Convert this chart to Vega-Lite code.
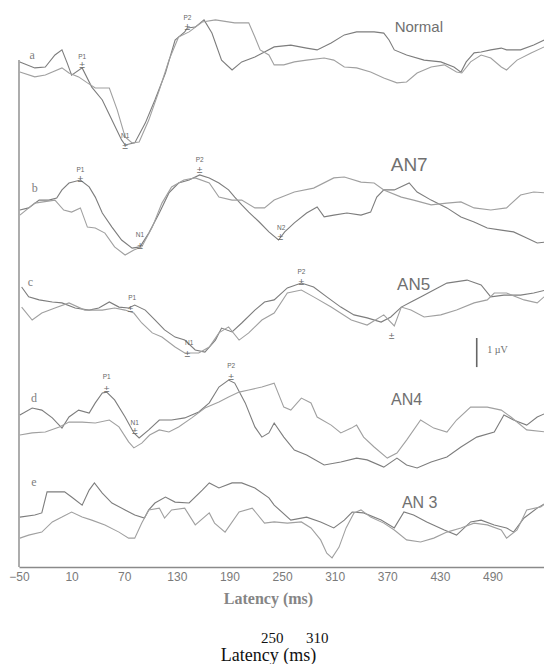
{
"$schema":"https://vega.github.io/schema/vega-lite/v6.json",
"padding":{"left":8,"top":0,"right":0,"bottom":0},
"background":"white",
"spacing":0,
"bounds":"flush",
"resolve":{"scale":{"y":"independent"}},
"title":{"text":"\u200b\u00a0\u00a0\u00a0\u00a0\u00a0\u00a0\u00a0\u00a0\u00a0\u00a0\u00a0\u00a0\u00a0\u00a0250\u00a0\u00a0\u00a0\u00a0\u00a0\u00a0310","subtitle":"Latency (ms)","orient":"bottom","anchor":"middle","frame":"group","dx":-14,"font":"Liberation Serif","fontSize":15,"fontWeight":"normal","color":"#111","subtitleFont":"Liberation Serif","subtitleFontSize":18,"subtitleColor":"#111","subtitlePadding":1,"offset":25},
"config":{"view":{"stroke":null}},
"datasets":{
"traces":[
{"panel":"a","series":"1","latency":-49,"uv":0.27},{"panel":"a","series":"1","latency":-32,"uv":0.07},{"panel":"a","series":"1","latency":-20,"uv":0.1},{"panel":"a","series":"1","latency":-9,"uv":0.5},{"panel":"a","series":"1","latency":-1,"uv":0.67},{"panel":"a","series":"1","latency":5,"uv":0.23},{"panel":"a","series":"1","latency":10,"uv":-0.17},{"panel":"a","series":"1","latency":22,"uv":0.07},{"panel":"a","series":"1","latency":33,"uv":-0.57},{"panel":"a","series":"1","latency":45,"uv":-1.0},{"panel":"a","series":"1","latency":56,"uv":-1.67},{"panel":"a","series":"1","latency":67,"uv":-2.33},{"panel":"a","series":"1","latency":71,"uv":-2.5},{"panel":"a","series":"1","latency":82,"uv":-2.43},{"panel":"a","series":"1","latency":94,"uv":-1.77},{"panel":"a","series":"1","latency":105,"uv":-1.0},{"panel":"a","series":"1","latency":117,"uv":-0.1},{"panel":"a","series":"1","latency":128,"uv":1.0},{"panel":"a","series":"1","latency":139,"uv":1.27},{"panel":"a","series":"1","latency":142,"uv":1.4},{"panel":"a","series":"1","latency":151,"uv":1.43},{"panel":"a","series":"1","latency":161,"uv":1.67},{"panel":"a","series":"1","latency":170,"uv":1.23},{"panel":"a","series":"1","latency":181,"uv":0.33},{"panel":"a","series":"1","latency":193,"uv":0.0},{"panel":"a","series":"1","latency":204,"uv":0.27},{"panel":"a","series":"1","latency":219,"uv":0.43},{"panel":"a","series":"1","latency":230,"uv":0.6},{"panel":"a","series":"1","latency":241,"uv":0.77},{"panel":"a","series":"1","latency":260,"uv":0.83},{"panel":"a","series":"1","latency":278,"uv":0.73},{"panel":"a","series":"1","latency":290,"uv":0.67},{"panel":"a","series":"1","latency":306,"uv":0.9},{"panel":"a","series":"1","latency":321,"uv":1.17},{"panel":"a","series":"1","latency":335,"uv":1.27},{"panel":"a","series":"1","latency":355,"uv":1.27},{"panel":"a","series":"1","latency":366,"uv":1.23},{"panel":"a","series":"1","latency":372,"uv":1.0},{"panel":"a","series":"1","latency":378,"uv":0.67},{"panel":"a","series":"1","latency":392,"uv":0.5},{"panel":"a","series":"1","latency":412,"uv":0.33},{"panel":"a","series":"1","latency":431,"uv":0.27},{"panel":"a","series":"1","latency":446,"uv":0.1},{"panel":"a","series":"1","latency":454,"uv":-0.07},{"panel":"a","series":"1","latency":460,"uv":0.27},{"panel":"a","series":"1","latency":469,"uv":0.57},{"panel":"a","series":"1","latency":477,"uv":0.6},{"panel":"a","series":"1","latency":488,"uv":0.67},{"panel":"a","series":"1","latency":500,"uv":0.73},{"panel":"a","series":"1","latency":506,"uv":0.67},{"panel":"a","series":"1","latency":522,"uv":0.67},{"panel":"a","series":"1","latency":537,"uv":0.83},{"panel":"a","series":"1","latency":549,"uv":1.0},
{"panel":"a","series":"2","latency":-49,"uv":-0.07},{"panel":"a","series":"2","latency":-32,"uv":-0.23},{"panel":"a","series":"2","latency":-20,"uv":-0.17},{"panel":"a","series":"2","latency":-1,"uv":0.07},{"panel":"a","series":"2","latency":7,"uv":-0.1},{"panel":"a","series":"2","latency":18,"uv":-0.23},{"panel":"a","series":"2","latency":28,"uv":-0.43},{"panel":"a","series":"2","latency":37,"uv":-0.6},{"panel":"a","series":"2","latency":53,"uv":-0.6},{"panel":"a","series":"2","latency":62,"uv":-1.33},{"panel":"a","series":"2","latency":71,"uv":-2.23},{"panel":"a","series":"2","latency":79,"uv":-2.43},{"panel":"a","series":"2","latency":87,"uv":-2.4},{"panel":"a","series":"2","latency":98,"uv":-1.67},{"panel":"a","series":"2","latency":110,"uv":-0.67},{"panel":"a","series":"2","latency":121,"uv":0.33},{"panel":"a","series":"2","latency":132,"uv":1.1},{"panel":"a","series":"2","latency":144,"uv":1.27},{"panel":"a","series":"2","latency":159,"uv":1.6},{"panel":"a","series":"2","latency":174,"uv":1.67},{"panel":"a","series":"2","latency":196,"uv":1.57},{"panel":"a","series":"2","latency":212,"uv":1.57},{"panel":"a","series":"2","latency":219,"uv":1.1},{"panel":"a","series":"2","latency":225,"uv":0.67},{"panel":"a","series":"2","latency":235,"uv":0.5},{"panel":"a","series":"2","latency":241,"uv":0.17},{"panel":"a","series":"2","latency":252,"uv":0.17},{"panel":"a","series":"2","latency":264,"uv":0.27},{"panel":"a","series":"2","latency":278,"uv":0.33},{"panel":"a","series":"2","latency":298,"uv":0.4},{"panel":"a","series":"2","latency":309,"uv":0.33},{"panel":"a","series":"2","latency":321,"uv":0.1},{"panel":"a","series":"2","latency":335,"uv":0.07},{"panel":"a","series":"2","latency":351,"uv":-0.07},{"panel":"a","series":"2","latency":366,"uv":-0.27},{"panel":"a","series":"2","latency":381,"uv":-0.43},{"panel":"a","series":"2","latency":392,"uv":-0.4},{"panel":"a","series":"2","latency":404,"uv":-0.1},{"panel":"a","series":"2","latency":420,"uv":0.1},{"panel":"a","series":"2","latency":435,"uv":0.17},{"panel":"a","series":"2","latency":449,"uv":-0.07},{"panel":"a","series":"2","latency":455,"uv":-0.1},{"panel":"a","series":"2","latency":465,"uv":0.27},{"panel":"a","series":"2","latency":477,"uv":0.5},{"panel":"a","series":"2","latency":488,"uv":0.4},{"panel":"a","series":"2","latency":500,"uv":0.1},{"panel":"a","series":"2","latency":506,"uv":0.0},{"panel":"a","series":"2","latency":518,"uv":0.33},{"panel":"a","series":"2","latency":534,"uv":0.57},{"panel":"a","series":"2","latency":549,"uv":0.77},
{"panel":"b","series":"1","latency":-49,"uv":0},{"panel":"b","series":"1","latency":-39,"uv":0.07},{"panel":"b","series":"1","latency":-27,"uv":0.33},{"panel":"b","series":"1","latency":-16,"uv":0.33},{"panel":"b","series":"1","latency":-7,"uv":0.4},{"panel":"b","series":"1","latency":-1,"uv":0.67},{"panel":"b","series":"1","latency":7,"uv":0.9},{"panel":"b","series":"1","latency":20,"uv":1.0},{"panel":"b","series":"1","latency":30,"uv":0.77},{"panel":"b","series":"1","latency":37,"uv":0.43},{"panel":"b","series":"1","latency":45,"uv":-0.1},{"panel":"b","series":"1","latency":56,"uv":-0.57},{"panel":"b","series":"1","latency":67,"uv":-1.0},{"panel":"b","series":"1","latency":79,"uv":-1.27},{"panel":"b","series":"1","latency":88,"uv":-1.23},{"panel":"b","series":"1","latency":98,"uv":-0.77},{"panel":"b","series":"1","latency":110,"uv":-0.1},{"panel":"b","series":"1","latency":121,"uv":0.57},{"panel":"b","series":"1","latency":132,"uv":0.9},{"panel":"b","series":"1","latency":144,"uv":1.0},{"panel":"b","series":"1","latency":156,"uv":1.17},{"panel":"b","series":"1","latency":167,"uv":1.07},{"panel":"b","series":"1","latency":178,"uv":0.9},{"panel":"b","series":"1","latency":189,"uv":0.67},{"panel":"b","series":"1","latency":196,"uv":0.43},{"panel":"b","series":"1","latency":204,"uv":0.17},{"panel":"b","series":"1","latency":212,"uv":-0.07},{"panel":"b","series":"1","latency":224,"uv":-0.4},{"panel":"b","series":"1","latency":235,"uv":-0.73},{"panel":"b","series":"1","latency":246,"uv":-1.0},{"panel":"b","series":"1","latency":253,"uv":-0.73},{"panel":"b","series":"1","latency":264,"uv":-0.43},{"panel":"b","series":"1","latency":278,"uv":-0.1},{"panel":"b","series":"1","latency":290,"uv":0.1},{"panel":"b","series":"1","latency":298,"uv":-0.23},{"panel":"b","series":"1","latency":309,"uv":-0.17},{"panel":"b","series":"1","latency":324,"uv":-0.1},{"panel":"b","series":"1","latency":340,"uv":-0.17},{"panel":"b","series":"1","latency":351,"uv":-0.07},{"panel":"b","series":"1","latency":358,"uv":0.43},{"panel":"b","series":"1","latency":366,"uv":0.67},{"panel":"b","series":"1","latency":378,"uv":0.67},{"panel":"b","series":"1","latency":395,"uv":0.9},{"panel":"b","series":"1","latency":404,"uv":0.6},{"panel":"b","series":"1","latency":420,"uv":0.33},{"panel":"b","series":"1","latency":438,"uv":0.07},{"panel":"b","series":"1","latency":454,"uv":-0.23},{"panel":"b","series":"1","latency":469,"uv":-0.4},{"panel":"b","series":"1","latency":484,"uv":-0.6},{"panel":"b","series":"1","latency":500,"uv":-0.67},{"panel":"b","series":"1","latency":514,"uv":-0.73},{"panel":"b","series":"1","latency":529,"uv":-0.93},{"panel":"b","series":"1","latency":541,"uv":-1.1},{"panel":"b","series":"1","latency":551,"uv":-1.07},
{"panel":"b","series":"2","latency":-49,"uv":-0.17},{"panel":"b","series":"2","latency":-32,"uv":0.23},{"panel":"b","series":"2","latency":-9,"uv":0.33},{"panel":"b","series":"2","latency":1,"uv":0},{"panel":"b","series":"2","latency":10,"uv":-0.07},{"panel":"b","series":"2","latency":20,"uv":0.07},{"panel":"b","series":"2","latency":28,"uv":-0.57},{"panel":"b","series":"2","latency":37,"uv":-0.6},{"panel":"b","series":"2","latency":48,"uv":-0.77},{"panel":"b","series":"2","latency":59,"uv":-1.23},{"panel":"b","series":"2","latency":71,"uv":-1.5},{"panel":"b","series":"2","latency":81,"uv":-1.33},{"panel":"b","series":"2","latency":90,"uv":-1.23},{"panel":"b","series":"2","latency":102,"uv":-0.57},{"panel":"b","series":"2","latency":113,"uv":0.23},{"panel":"b","series":"2","latency":124,"uv":0.77},{"panel":"b","series":"2","latency":138,"uv":1.0},{"panel":"b","series":"2","latency":151,"uv":1.07},{"panel":"b","series":"2","latency":167,"uv":0.9},{"panel":"b","series":"2","latency":178,"uv":0.43},{"panel":"b","series":"2","latency":193,"uv":0.33},{"panel":"b","series":"2","latency":204,"uv":0.33},{"panel":"b","series":"2","latency":219,"uv":0.07},{"panel":"b","series":"2","latency":230,"uv":0.07},{"panel":"b","series":"2","latency":241,"uv":0.33},{"panel":"b","series":"2","latency":264,"uv":0.6},{"panel":"b","series":"2","latency":286,"uv":0.73},{"panel":"b","series":"2","latency":309,"uv":1.07},{"panel":"b","series":"2","latency":321,"uv":1.1},{"panel":"b","series":"2","latency":340,"uv":0.93},{"panel":"b","series":"2","latency":355,"uv":0.9},{"panel":"b","series":"2","latency":366,"uv":0.67},{"panel":"b","series":"2","latency":386,"uv":0.43},{"panel":"b","series":"2","latency":400,"uv":0.33},{"panel":"b","series":"2","latency":420,"uv":0.17},{"panel":"b","series":"2","latency":438,"uv":0.23},{"panel":"b","series":"2","latency":454,"uv":0.27},{"panel":"b","series":"2","latency":469,"uv":0.07},{"panel":"b","series":"2","latency":488,"uv":0},{"panel":"b","series":"2","latency":506,"uv":0.07},{"panel":"b","series":"2","latency":522,"uv":0.5},{"panel":"b","series":"2","latency":537,"uv":0.6},{"panel":"b","series":"2","latency":551,"uv":0.57},
{"panel":"c","series":"1","latency":-47,"uv":0.6},{"panel":"c","series":"1","latency":-39,"uv":0.27},{"panel":"c","series":"1","latency":-27,"uv":0.17},{"panel":"c","series":"1","latency":-12,"uv":0.1},{"panel":"c","series":"1","latency":-1,"uv":0.07},{"panel":"c","series":"1","latency":14,"uv":-0.1},{"panel":"c","series":"1","latency":30,"uv":-0.17},{"panel":"c","series":"1","latency":41,"uv":-0.1},{"panel":"c","series":"1","latency":53,"uv":0.1},{"panel":"c","series":"1","latency":64,"uv":-0.07},{"panel":"c","series":"1","latency":75,"uv":-0.1},{"panel":"c","series":"1","latency":82,"uv":0},{"panel":"c","series":"1","latency":94,"uv":-0.17},{"panel":"c","series":"1","latency":105,"uv":-0.5},{"panel":"c","series":"1","latency":116,"uv":-0.83},{"panel":"c","series":"1","latency":128,"uv":-1.07},{"panel":"c","series":"1","latency":139,"uv":-1.17},{"panel":"c","series":"1","latency":151,"uv":-1.5},{"panel":"c","series":"1","latency":162,"uv":-1.57},{"panel":"c","series":"1","latency":174,"uv":-1.17},{"panel":"c","series":"1","latency":181,"uv":-0.77},{"panel":"c","series":"1","latency":193,"uv":-0.9},{"panel":"c","series":"1","latency":204,"uv":-0.6},{"panel":"c","series":"1","latency":219,"uv":-0.17},{"panel":"c","series":"1","latency":230,"uv":0.1},{"panel":"c","series":"1","latency":241,"uv":0.17},{"panel":"c","series":"1","latency":256,"uv":0.57},{"panel":"c","series":"1","latency":272,"uv":0.73},{"panel":"c","series":"1","latency":286,"uv":0.6},{"panel":"c","series":"1","latency":301,"uv":0.27},{"panel":"c","series":"1","latency":317,"uv":-0.07},{"panel":"c","series":"1","latency":332,"uv":-0.33},{"panel":"c","series":"1","latency":347,"uv":-0.43},{"panel":"c","series":"1","latency":363,"uv":-0.57},{"panel":"c","series":"1","latency":374,"uv":-0.4},{"panel":"c","series":"1","latency":386,"uv":-0.07},{"panel":"c","series":"1","latency":397,"uv":0.1},{"panel":"c","series":"1","latency":408,"uv":0.27},{"panel":"c","series":"1","latency":423,"uv":0.5},{"panel":"c","series":"1","latency":438,"uv":0.73},{"panel":"c","series":"1","latency":461,"uv":0.83},{"panel":"c","series":"1","latency":477,"uv":0.67},{"panel":"c","series":"1","latency":488,"uv":0.27},{"panel":"c","series":"1","latency":503,"uv":0.33},{"panel":"c","series":"1","latency":522,"uv":0.33},{"panel":"c","series":"1","latency":537,"uv":0.4},{"panel":"c","series":"1","latency":551,"uv":0.5},
{"panel":"c","series":"2","latency":-47,"uv":-0.07},{"panel":"c","series":"2","latency":-35,"uv":-0.5},{"panel":"c","series":"2","latency":-24,"uv":-0.27},{"panel":"c","series":"2","latency":-9,"uv":-0.1},{"panel":"c","series":"2","latency":7,"uv":0.07},{"panel":"c","series":"2","latency":25,"uv":-0.17},{"panel":"c","series":"2","latency":45,"uv":-0.17},{"panel":"c","series":"2","latency":59,"uv":-0.1},{"panel":"c","series":"2","latency":71,"uv":-0.17},{"panel":"c","series":"2","latency":81,"uv":-0.27},{"panel":"c","series":"2","latency":90,"uv":-0.6},{"panel":"c","series":"2","latency":102,"uv":-0.93},{"panel":"c","series":"2","latency":113,"uv":-1.07},{"panel":"c","series":"2","latency":128,"uv":-1.4},{"panel":"c","series":"2","latency":139,"uv":-1.6},{"panel":"c","series":"2","latency":155,"uv":-1.6},{"panel":"c","series":"2","latency":167,"uv":-1.4},{"panel":"c","series":"2","latency":178,"uv":-0.93},{"panel":"c","series":"2","latency":189,"uv":-0.73},{"panel":"c","series":"2","latency":201,"uv":-1.17},{"panel":"c","series":"2","latency":212,"uv":-0.93},{"panel":"c","series":"2","latency":227,"uv":-0.5},{"panel":"c","series":"2","latency":241,"uv":-0.27},{"panel":"c","series":"2","latency":256,"uv":0.4},{"panel":"c","series":"2","latency":272,"uv":0.5},{"panel":"c","series":"2","latency":286,"uv":0.27},{"panel":"c","series":"2","latency":306,"uv":-0.07},{"panel":"c","series":"2","latency":329,"uv":-0.5},{"panel":"c","series":"2","latency":347,"uv":-0.67},{"panel":"c","series":"2","latency":366,"uv":-0.33},{"panel":"c","series":"2","latency":378,"uv":-0.7},{"panel":"c","series":"2","latency":386,"uv":-0.07},{"panel":"c","series":"2","latency":397,"uv":-0.17},{"panel":"c","series":"2","latency":412,"uv":-0.4},{"panel":"c","series":"2","latency":431,"uv":-0.33},{"panel":"c","series":"2","latency":449,"uv":-0.17},{"panel":"c","series":"2","latency":469,"uv":0.07},{"panel":"c","series":"2","latency":484,"uv":0.17},{"panel":"c","series":"2","latency":492,"uv":0.4},{"panel":"c","series":"2","latency":506,"uv":0.4},{"panel":"c","series":"2","latency":526,"uv":0.17},{"panel":"c","series":"2","latency":541,"uv":0.07},{"panel":"c","series":"2","latency":551,"uv":0.33},
{"panel":"d","series":"1","latency":-49,"uv":0.17},{"panel":"d","series":"1","latency":-35,"uv":0.4},{"panel":"d","series":"1","latency":-24,"uv":0.33},{"panel":"d","series":"1","latency":-12,"uv":0.07},{"panel":"d","series":"1","latency":-1,"uv":-0.27},{"panel":"d","series":"1","latency":7,"uv":0.1},{"panel":"d","series":"1","latency":18,"uv":0.33},{"panel":"d","series":"1","latency":30,"uv":0.23},{"panel":"d","series":"1","latency":37,"uv":0.57},{"panel":"d","series":"1","latency":45,"uv":0.9},{"panel":"d","series":"1","latency":50,"uv":0.93},{"panel":"d","series":"1","latency":59,"uv":0.67},{"panel":"d","series":"1","latency":71,"uv":0.1},{"panel":"d","series":"1","latency":81,"uv":-0.43},{"panel":"d","series":"1","latency":87,"uv":-0.6},{"panel":"d","series":"1","latency":98,"uv":-0.33},{"panel":"d","series":"1","latency":110,"uv":0},{"panel":"d","series":"1","latency":124,"uv":0},{"panel":"d","series":"1","latency":139,"uv":0.07},{"panel":"d","series":"1","latency":155,"uv":0.27},{"panel":"d","series":"1","latency":167,"uv":0.57},{"panel":"d","series":"1","latency":178,"uv":1.1},{"panel":"d","series":"1","latency":189,"uv":1.33},{"panel":"d","series":"1","latency":196,"uv":1.23},{"panel":"d","series":"1","latency":208,"uv":0.57},{"panel":"d","series":"1","latency":219,"uv":-0.23},{"panel":"d","series":"1","latency":227,"uv":-0.57},{"panel":"d","series":"1","latency":235,"uv":-0.43},{"panel":"d","series":"1","latency":241,"uv":-0.1},{"panel":"d","series":"1","latency":252,"uv":-0.57},{"panel":"d","series":"1","latency":264,"uv":-1.0},{"panel":"d","series":"1","latency":278,"uv":-1.17},{"panel":"d","series":"1","latency":298,"uv":-1.5},{"panel":"d","series":"1","latency":317,"uv":-1.4},{"panel":"d","series":"1","latency":335,"uv":-1.27},{"panel":"d","series":"1","latency":347,"uv":-1.33},{"panel":"d","series":"1","latency":366,"uv":-1.57},{"panel":"d","series":"1","latency":381,"uv":-1.27},{"panel":"d","series":"1","latency":392,"uv":-1.5},{"panel":"d","series":"1","latency":404,"uv":-1.6},{"panel":"d","series":"1","latency":420,"uv":-1.4},{"panel":"d","series":"1","latency":438,"uv":-1.23},{"panel":"d","series":"1","latency":454,"uv":-0.9},{"panel":"d","series":"1","latency":472,"uv":-0.57},{"panel":"d","series":"1","latency":492,"uv":-0.4},{"panel":"d","series":"1","latency":503,"uv":0.17},{"panel":"d","series":"1","latency":514,"uv":0},{"panel":"d","series":"1","latency":529,"uv":-0.17},{"panel":"d","series":"1","latency":541,"uv":0.1},{"panel":"d","series":"1","latency":551,"uv":0.23},
{"panel":"d","series":"2","latency":-49,"uv":-0.5},{"panel":"d","series":"2","latency":-35,"uv":-0.43},{"panel":"d","series":"2","latency":-20,"uv":-0.4},{"panel":"d","series":"2","latency":-4,"uv":-0.23},{"panel":"d","series":"2","latency":7,"uv":-0.07},{"panel":"d","series":"2","latency":22,"uv":-0.07},{"panel":"d","series":"2","latency":37,"uv":-0.1},{"panel":"d","series":"2","latency":53,"uv":0},{"panel":"d","series":"2","latency":64,"uv":-0.23},{"panel":"d","series":"2","latency":75,"uv":-0.73},{"panel":"d","series":"2","latency":81,"uv":-0.93},{"panel":"d","series":"2","latency":90,"uv":-0.77},{"panel":"d","series":"2","latency":99,"uv":-0.5},{"panel":"d","series":"2","latency":110,"uv":-0.33},{"panel":"d","series":"2","latency":121,"uv":-0.4},{"panel":"d","series":"2","latency":132,"uv":-0.23},{"panel":"d","series":"2","latency":147,"uv":0.07},{"panel":"d","series":"2","latency":162,"uv":0.4},{"panel":"d","series":"2","latency":178,"uv":0.6},{"panel":"d","series":"2","latency":189,"uv":0.77},{"panel":"d","series":"2","latency":201,"uv":0.93},{"panel":"d","series":"2","latency":212,"uv":1.0},{"panel":"d","series":"2","latency":227,"uv":1.1},{"panel":"d","series":"2","latency":241,"uv":1.23},{"panel":"d","series":"2","latency":252,"uv":0.43},{"panel":"d","series":"2","latency":260,"uv":0.33},{"panel":"d","series":"2","latency":272,"uv":0.73},{"panel":"d","series":"2","latency":283,"uv":0.57},{"panel":"d","series":"2","latency":290,"uv":0.1},{"panel":"d","series":"2","latency":306,"uv":-0.17},{"panel":"d","series":"2","latency":317,"uv":-0.43},{"panel":"d","series":"2","latency":329,"uv":-0.27},{"panel":"d","series":"2","latency":335,"uv":-0.17},{"panel":"d","series":"2","latency":343,"uv":-0.57},{"panel":"d","series":"2","latency":355,"uv":-0.9},{"panel":"d","series":"2","latency":370,"uv":-1.27},{"panel":"d","series":"2","latency":381,"uv":-1.1},{"panel":"d","series":"2","latency":392,"uv":-0.67},{"panel":"d","series":"2","latency":408,"uv":0},{"panel":"d","series":"2","latency":423,"uv":-0.27},{"panel":"d","series":"2","latency":438,"uv":-0.4},{"panel":"d","series":"2","latency":449,"uv":0},{"panel":"d","series":"2","latency":465,"uv":0.43},{"panel":"d","series":"2","latency":484,"uv":0.43},{"panel":"d","series":"2","latency":500,"uv":0.33},{"panel":"d","series":"2","latency":511,"uv":0.1},{"panel":"d","series":"2","latency":529,"uv":-0.33},{"panel":"d","series":"2","latency":551,"uv":-0.4},
{"panel":"e","series":"1","latency":-49,"uv":-0.07},{"panel":"e","series":"1","latency":-32,"uv":0},{"panel":"e","series":"1","latency":-24,"uv":0.07},{"panel":"e","series":"1","latency":-18,"uv":0.77},{"panel":"e","series":"1","latency":-9,"uv":0.77},{"panel":"e","series":"1","latency":2,"uv":0.77},{"panel":"e","series":"1","latency":10,"uv":0.6},{"panel":"e","series":"1","latency":22,"uv":0.33},{"panel":"e","series":"1","latency":30,"uv":0.83},{"panel":"e","series":"1","latency":36,"uv":1.07},{"panel":"e","series":"1","latency":45,"uv":0.73},{"panel":"e","series":"1","latency":56,"uv":0.4},{"panel":"e","series":"1","latency":71,"uv":0.17},{"panel":"e","series":"1","latency":82,"uv":0},{"panel":"e","series":"1","latency":93,"uv":-0.1},{"panel":"e","series":"1","latency":98,"uv":0.17},{"panel":"e","series":"1","latency":105,"uv":0.4},{"panel":"e","series":"1","latency":117,"uv":0.6},{"panel":"e","series":"1","latency":128,"uv":0.43},{"panel":"e","series":"1","latency":144,"uv":0.4},{"panel":"e","series":"1","latency":159,"uv":0.83},{"panel":"e","series":"1","latency":167,"uv":1.07},{"panel":"e","series":"1","latency":178,"uv":0.9},{"panel":"e","series":"1","latency":193,"uv":1.07},{"panel":"e","series":"1","latency":204,"uv":1.07},{"panel":"e","series":"1","latency":219,"uv":0.9},{"panel":"e","series":"1","latency":235,"uv":0.57},{"panel":"e","series":"1","latency":241,"uv":0.33},{"panel":"e","series":"1","latency":260,"uv":-0.17},{"panel":"e","series":"1","latency":278,"uv":-0.07},{"panel":"e","series":"1","latency":294,"uv":-0.23},{"panel":"e","series":"1","latency":309,"uv":-0.43},{"panel":"e","series":"1","latency":321,"uv":-0.17},{"panel":"e","series":"1","latency":330,"uv":0.1},{"panel":"e","series":"1","latency":343,"uv":0.07},{"panel":"e","series":"1","latency":363,"uv":-0.17},{"panel":"e","series":"1","latency":378,"uv":-0.43},{"panel":"e","series":"1","latency":389,"uv":0.1},{"panel":"e","series":"1","latency":400,"uv":0},{"panel":"e","series":"1","latency":415,"uv":-0.23},{"panel":"e","series":"1","latency":435,"uv":-0.5},{"panel":"e","series":"1","latency":449,"uv":-0.67},{"panel":"e","series":"1","latency":465,"uv":-0.23},{"panel":"e","series":"1","latency":477,"uv":-0.17},{"panel":"e","series":"1","latency":492,"uv":-0.33},{"panel":"e","series":"1","latency":506,"uv":-0.43},{"panel":"e","series":"1","latency":514,"uv":-0.57},{"panel":"e","series":"1","latency":526,"uv":-0.1},{"panel":"e","series":"1","latency":541,"uv":0.23},{"panel":"e","series":"1","latency":551,"uv":0.4},
{"panel":"e","series":"2","latency":-49,"uv":-0.77},{"panel":"e","series":"2","latency":-39,"uv":-0.67},{"panel":"e","series":"2","latency":-24,"uv":-0.57},{"panel":"e","series":"2","latency":-12,"uv":-0.23},{"panel":"e","series":"2","latency":-1,"uv":-0.07},{"panel":"e","series":"2","latency":10,"uv":0.1},{"panel":"e","series":"2","latency":22,"uv":-0.07},{"panel":"e","series":"2","latency":33,"uv":-0.17},{"panel":"e","series":"2","latency":48,"uv":-0.33},{"panel":"e","series":"2","latency":64,"uv":-0.57},{"panel":"e","series":"2","latency":75,"uv":-0.77},{"panel":"e","series":"2","latency":82,"uv":-0.77},{"panel":"e","series":"2","latency":90,"uv":-0.27},{"panel":"e","series":"2","latency":98,"uv":0.17},{"panel":"e","series":"2","latency":110,"uv":0.23},{"panel":"e","series":"2","latency":116,"uv":-0.1},{"panel":"e","series":"2","latency":124,"uv":0.17},{"panel":"e","series":"2","latency":139,"uv":0.23},{"panel":"e","series":"2","latency":151,"uv":-0.33},{"panel":"e","series":"2","latency":167,"uv":0.07},{"panel":"e","series":"2","latency":173,"uv":-0.27},{"panel":"e","series":"2","latency":185,"uv":-0.57},{"panel":"e","series":"2","latency":201,"uv":0.1},{"panel":"e","series":"2","latency":216,"uv":0.23},{"panel":"e","series":"2","latency":230,"uv":-0.27},{"panel":"e","series":"2","latency":241,"uv":-0.23},{"panel":"e","series":"2","latency":256,"uv":-0.27},{"panel":"e","series":"2","latency":272,"uv":-0.23},{"panel":"e","series":"2","latency":283,"uv":-0.43},{"panel":"e","series":"2","latency":294,"uv":-0.83},{"panel":"e","series":"2","latency":301,"uv":-1.27},{"panel":"e","series":"2","latency":307,"uv":-1.43},{"panel":"e","series":"2","latency":315,"uv":-1.07},{"panel":"e","series":"2","latency":323,"uv":-0.43},{"panel":"e","series":"2","latency":332,"uv":0.07},{"panel":"e","series":"2","latency":340,"uv":0.17},{"panel":"e","series":"2","latency":351,"uv":-0.07},{"panel":"e","series":"2","latency":366,"uv":-0.27},{"panel":"e","series":"2","latency":378,"uv":-0.5},{"panel":"e","series":"2","latency":392,"uv":-0.83},{"panel":"e","series":"2","latency":408,"uv":-0.9},{"panel":"e","series":"2","latency":423,"uv":-0.77},{"panel":"e","series":"2","latency":438,"uv":-0.57},{"panel":"e","series":"2","latency":454,"uv":-0.43},{"panel":"e","series":"2","latency":469,"uv":-0.27},{"panel":"e","series":"2","latency":484,"uv":-0.33},{"panel":"e","series":"2","latency":500,"uv":-0.5},{"panel":"e","series":"2","latency":506,"uv":-0.77},{"panel":"e","series":"2","latency":518,"uv":-0.5},{"panel":"e","series":"2","latency":529,"uv":0.17},{"panel":"e","series":"2","latency":545,"uv":0.27},{"panel":"e","series":"2","latency":551,"uv":0.4}
],
"notes":[
{"panel":"a","kind":"name","label":"Normal","latency":406,"uv":1.43},
{"panel":"a","kind":"letter","label":"a","latency":-35,"uv":0.5},
{"panel":"a","kind":"peak","label":"P1","latency":22,"uv":0.43},
{"panel":"a","kind":"peak","label":"N1","latency":71,"uv":-2.2},
{"panel":"a","kind":"peak","label":"P2","latency":142,"uv":1.73},
{"panel":"a","kind":"marker","label":"±","latency":22,"uv":0.13},
{"panel":"a","kind":"marker","label":"±","latency":71,"uv":-2.57},
{"panel":"a","kind":"marker","label":"±","latency":142,"uv":1.4},
{"panel":"b","kind":"name","label":"AN7","latency":395,"uv":1.5},
{"panel":"b","kind":"letter","label":"b","latency":-32,"uv":0.73},
{"panel":"b","kind":"peak","label":"P1","latency":20,"uv":1.33},
{"panel":"b","kind":"peak","label":"N1","latency":88,"uv":-0.83},
{"panel":"b","kind":"peak","label":"P2","latency":156,"uv":1.67},
{"panel":"b","kind":"peak","label":"N2","latency":249,"uv":-0.6},
{"panel":"b","kind":"marker","label":"±","latency":20,"uv":1.0},
{"panel":"b","kind":"marker","label":"±","latency":88,"uv":-1.23},
{"panel":"b","kind":"marker","label":"±","latency":156,"uv":1.3},
{"panel":"b","kind":"marker","label":"±","latency":248,"uv":-0.93},
{"panel":"c","kind":"name","label":"AN5","latency":400,"uv":0.67},
{"panel":"c","kind":"letter","label":"c","latency":-37,"uv":0.77},
{"panel":"c","kind":"peak","label":"P1","latency":79,"uv":0.23},
{"panel":"c","kind":"peak","label":"N1","latency":144,"uv":-1.27},
{"panel":"c","kind":"peak","label":"P2","latency":272,"uv":1.1},
{"panel":"c","kind":"marker","label":"±","latency":77,"uv":-0.17},
{"panel":"c","kind":"marker","label":"±","latency":142,"uv":-1.67},
{"panel":"c","kind":"marker","label":"±","latency":272,"uv":0.73},
{"panel":"c","kind":"marker","label":"±","latency":375,"uv":-1.07},
{"panel":"c","kind":"unit","label":"1 µV","latency":484,"uv":-1.5},
{"panel":"d","kind":"name","label":"AN4","latency":392,"uv":0.67},
{"panel":"d","kind":"letter","label":"d","latency":-33,"uv":0.73},
{"panel":"d","kind":"peak","label":"P1","latency":50,"uv":1.43},
{"panel":"d","kind":"peak","label":"N1","latency":82,"uv":-0.1},
{"panel":"d","kind":"peak","label":"P2","latency":192,"uv":1.8},
{"panel":"d","kind":"marker","label":"±","latency":50,"uv":1.0},
{"panel":"d","kind":"marker","label":"±","latency":82,"uv":-0.4},
{"panel":"d","kind":"marker","label":"±","latency":192,"uv":1.4},
{"panel":"e","kind":"name","label":"AN 3","latency":407,"uv":0.4},
{"panel":"e","kind":"letter","label":"e","latency":-33,"uv":1.1}
]
},
"vconcat":[
{"width":527,"height":165,
 "encoding":{"x":{"field":"latency","type":"quantitative","scale":{"domain":[-50,551],"nice":false,"zero":false},"axis":null},
  "y":{"field":"uv","type":"quantitative","scale":{"domain":[-3.167,2.333],"nice":false,"zero":false},"axis":null}},
 "layer":[
  {"data":{"name":"notes"},"transform":[{"filter":"datum.panel === 'a' && datum.kind === 'letter'"}],"mark":{"type":"rule","color":"#808080","strokeWidth":1.3},"encoding":{"x":{"datum":-50,"type":"quantitative"},"y":{"datum":0.33,"type":"quantitative"},"y2":{"datum":-3.167}}},
  {"data":{"name":"traces"},"transform":[{"filter":"datum.panel === 'a'"}],"mark":{"type":"line","strokeWidth":1.1},"encoding":{"color":{"field":"series","type":"nominal","scale":{"domain":["1","2"],"range":["#7d7d7d","#a0a0a0"]},"legend":null}}},
  {"data":{"name":"notes"},"transform":[{"filter":"datum.panel === 'a' && datum.kind === 'name'"}],"mark":{"type":"text","font":"Liberation Sans","fontSize":15,"color":"#707070"},"encoding":{"text":{"field":"label"}}},
  {"data":{"name":"notes"},"transform":[{"filter":"datum.panel === 'a' && datum.kind === 'letter'"}],"mark":{"type":"text","font":"Liberation Serif","fontSize":12,"color":"#808080"},"encoding":{"text":{"field":"label"}}},
  {"data":{"name":"notes"},"transform":[{"filter":"datum.panel === 'a' && datum.kind === 'peak'"}],"mark":{"type":"text","font":"Liberation Sans","fontSize":6.5,"color":"#666666"},"encoding":{"text":{"field":"label"}}},
  {"data":{"name":"notes"},"transform":[{"filter":"datum.panel === 'a' && datum.kind === 'marker'"}],"mark":{"type":"text","font":"DejaVu Sans","fontSize":8,"color":"#666666"},"encoding":{"text":{"field":"label"}}}
 ]},
{"width":527,"height":103,
 "encoding":{"x":{"field":"latency","type":"quantitative","scale":{"domain":[-50,551],"nice":false,"zero":false},"axis":null},
  "y":{"field":"uv","type":"quantitative","scale":{"domain":[-1.933,1.5],"nice":false,"zero":false},"axis":null}},
 "layer":[
  {"data":{"name":"notes"},"transform":[{"filter":"datum.panel === 'b' && datum.kind === 'letter'"}],"mark":{"type":"rule","color":"#808080","strokeWidth":1.3},"encoding":{"x":{"datum":-50,"type":"quantitative"},"y":{"datum":1.5,"type":"quantitative"},"y2":{"datum":-1.933}}},
  {"data":{"name":"traces"},"transform":[{"filter":"datum.panel === 'b'"}],"mark":{"type":"line","strokeWidth":1.1},"encoding":{"color":{"field":"series","type":"nominal","scale":{"domain":["1","2"],"range":["#7d7d7d","#a0a0a0"]},"legend":null}}},
  {"data":{"name":"notes"},"transform":[{"filter":"datum.panel === 'b' && datum.kind === 'name'"}],"mark":{"type":"text","font":"Liberation Sans","fontSize":19,"color":"#707070"},"encoding":{"text":{"field":"label"}}},
  {"data":{"name":"notes"},"transform":[{"filter":"datum.panel === 'b' && datum.kind === 'letter'"}],"mark":{"type":"text","font":"Liberation Serif","fontSize":12,"color":"#808080"},"encoding":{"text":{"field":"label"}}},
  {"data":{"name":"notes"},"transform":[{"filter":"datum.panel === 'b' && datum.kind === 'peak'"}],"mark":{"type":"text","font":"Liberation Sans","fontSize":6.5,"color":"#666666"},"encoding":{"text":{"field":"label"}}},
  {"data":{"name":"notes"},"transform":[{"filter":"datum.panel === 'b' && datum.kind === 'marker'"}],"mark":{"type":"text","font":"DejaVu Sans","fontSize":8,"color":"#666666"},"encoding":{"text":{"field":"label"}}}
 ]},
{"width":527,"height":102,
 "encoding":{"x":{"field":"latency","type":"quantitative","scale":{"domain":[-50,551],"nice":false,"zero":false},"axis":null},
  "y":{"field":"uv","type":"quantitative","scale":{"domain":[-2.167,1.233],"nice":false,"zero":false},"axis":null}},
 "layer":[
  {"data":{"name":"notes"},"transform":[{"filter":"datum.panel === 'c' && datum.kind === 'letter'"}],"mark":{"type":"rule","color":"#808080","strokeWidth":1.3},"encoding":{"x":{"datum":-50,"type":"quantitative"},"y":{"datum":1.233,"type":"quantitative"},"y2":{"datum":-2.167}}},
  {"data":{"name":"notes"},"transform":[{"filter":"datum.panel === 'c' && datum.kind === 'unit'"}],"mark":{"type":"rule","color":"#666666","strokeWidth":1.6},"encoding":{"x":{"datum":472,"type":"quantitative"},"y":{"datum":-1.1,"type":"quantitative"},"y2":{"datum":-2.07}}},
  {"data":{"name":"traces"},"transform":[{"filter":"datum.panel === 'c'"}],"mark":{"type":"line","strokeWidth":1.1},"encoding":{"color":{"field":"series","type":"nominal","scale":{"domain":["1","2"],"range":["#7d7d7d","#a0a0a0"]},"legend":null}}},
  {"data":{"name":"notes"},"transform":[{"filter":"datum.panel === 'c' && datum.kind === 'name'"}],"mark":{"type":"text","font":"Liberation Sans","fontSize":17,"color":"#707070"},"encoding":{"text":{"field":"label"}}},
  {"data":{"name":"notes"},"transform":[{"filter":"datum.panel === 'c' && datum.kind === 'letter'"}],"mark":{"type":"text","font":"Liberation Serif","fontSize":12,"color":"#808080"},"encoding":{"text":{"field":"label"}}},
  {"data":{"name":"notes"},"transform":[{"filter":"datum.panel === 'c' && datum.kind === 'peak'"}],"mark":{"type":"text","font":"Liberation Sans","fontSize":6.5,"color":"#666666"},"encoding":{"text":{"field":"label"}}},
  {"data":{"name":"notes"},"transform":[{"filter":"datum.panel === 'c' && datum.kind === 'marker'"}],"mark":{"type":"text","font":"DejaVu Sans","fontSize":8,"color":"#666666"},"encoding":{"text":{"field":"label"}}},
  {"data":{"name":"notes"},"transform":[{"filter":"datum.panel === 'c' && datum.kind === 'unit'"}],"mark":{"type":"text","font":"Liberation Serif","fontSize":10,"color":"#707070","align":"left"},"encoding":{"text":{"field":"label"}}}
 ]},
{"width":527,"height":104,
 "encoding":{"x":{"field":"latency","type":"quantitative","scale":{"domain":[-50,551],"nice":false,"zero":false},"axis":null},
  "y":{"field":"uv","type":"quantitative","scale":{"domain":[-1.8,1.667],"nice":false,"zero":false},"axis":null}},
 "layer":[
  {"data":{"name":"notes"},"transform":[{"filter":"datum.panel === 'd' && datum.kind === 'letter'"}],"mark":{"type":"rule","color":"#808080","strokeWidth":1.3},"encoding":{"x":{"datum":-50,"type":"quantitative"},"y":{"datum":1.667,"type":"quantitative"},"y2":{"datum":-1.8}}},
  {"data":{"name":"traces"},"transform":[{"filter":"datum.panel === 'd'"}],"mark":{"type":"line","strokeWidth":1.1},"encoding":{"color":{"field":"series","type":"nominal","scale":{"domain":["1","2"],"range":["#7d7d7d","#a0a0a0"]},"legend":null}}},
  {"data":{"name":"notes"},"transform":[{"filter":"datum.panel === 'd' && datum.kind === 'name'"}],"mark":{"type":"text","font":"Liberation Sans","fontSize":16,"color":"#707070"},"encoding":{"text":{"field":"label"}}},
  {"data":{"name":"notes"},"transform":[{"filter":"datum.panel === 'd' && datum.kind === 'letter'"}],"mark":{"type":"text","font":"Liberation Serif","fontSize":12,"color":"#808080"},"encoding":{"text":{"field":"label"}}},
  {"data":{"name":"notes"},"transform":[{"filter":"datum.panel === 'd' && datum.kind === 'peak'"}],"mark":{"type":"text","font":"Liberation Sans","fontSize":6.5,"color":"#666666"},"encoding":{"text":{"field":"label"}}},
  {"data":{"name":"notes"},"transform":[{"filter":"datum.panel === 'd' && datum.kind === 'marker'"}],"mark":{"type":"text","font":"DejaVu Sans","fontSize":8,"color":"#666666"},"encoding":{"text":{"field":"label"}}}
 ]},
{"width":527,"height":93,
 "encoding":{"x":{"field":"latency","type":"quantitative","scale":{"domain":[-50,551],"nice":false,"zero":false},
   "axis":{"values":[-50,10,70,130,190,250,310,370,430,490],"title":"Latency (ms)","ticks":false,"labelFlush":false,"grid":false,"domainColor":"#8a8a8a","domainWidth":1.3,"labelColor":"#7a7a7a","labelFont":"Liberation Sans","labelFontSize":12,"labelPadding":4,"titleFont":"Liberation Serif","titleFontSize":16,"titleFontWeight":"bold","titleColor":"#858585","titlePadding":8,"titleX":249}},
  "y":{"field":"uv","type":"quantitative","scale":{"domain":[-1.733,1.367],"nice":false,"zero":false},"axis":null}},
 "layer":[
  {"data":{"name":"notes"},"transform":[{"filter":"datum.panel === 'e' && datum.kind === 'letter'"}],"mark":{"type":"rule","color":"#808080","strokeWidth":1.3},"encoding":{"x":{"datum":-50,"type":"quantitative"},"y":{"datum":1.367,"type":"quantitative"},"y2":{"datum":-1.733}}},
  {"data":{"name":"traces"},"transform":[{"filter":"datum.panel === 'e'"}],"mark":{"type":"line","strokeWidth":1.1},"encoding":{"color":{"field":"series","type":"nominal","scale":{"domain":["1","2"],"range":["#7d7d7d","#a0a0a0"]},"legend":null}}},
  {"data":{"name":"notes"},"transform":[{"filter":"datum.panel === 'e' && datum.kind === 'name'"}],"mark":{"type":"text","font":"Liberation Sans","fontSize":16,"color":"#707070"},"encoding":{"text":{"field":"label"}}},
  {"data":{"name":"notes"},"transform":[{"filter":"datum.panel === 'e' && datum.kind === 'letter'"}],"mark":{"type":"text","font":"Liberation Serif","fontSize":12,"color":"#808080"},"encoding":{"text":{"field":"label"}}}
 ]}
]
}
